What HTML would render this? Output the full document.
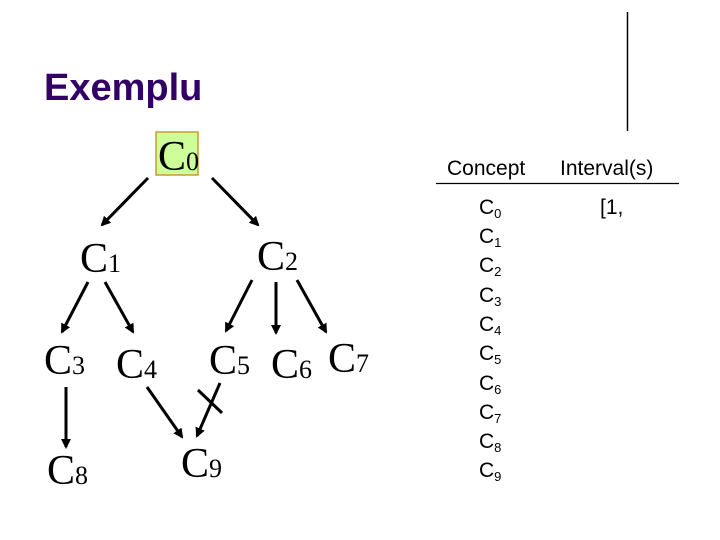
<!DOCTYPE html>
<html><head><meta charset="utf-8"><style>
html,body{margin:0;padding:0;background:#fff;width:720px;height:540px;overflow:hidden}
</style></head><body>
<svg width="720" height="540" viewBox="0 0 720 540" xmlns="http://www.w3.org/2000/svg">
<defs>
<marker id="a" markerWidth="10" markerHeight="10" refX="8" refY="5" orient="auto" markerUnits="userSpaceOnUse" viewBox="0 0 10 10">
<path d="M0,0 L10,5 L0,10 z" fill="#000"/>
</marker>
</defs>
<text x="44" y="100" font-family="Liberation Sans, sans-serif" font-weight="bold" font-size="38" fill="#330066">Exemplu</text>
<line x1="627.5" y1="12" x2="627.5" y2="131" stroke="#000" stroke-width="1.5"/>
<rect x="156" y="132" width="42" height="43" fill="#ccff99" stroke="#cc9933" stroke-width="1.5"/>
<g font-family="Liberation Serif, serif" font-size="42" fill="#000">
<text x="158" y="170">C<tspan font-size="26">0</tspan></text>
<text x="80" y="272">C<tspan font-size="26">1</tspan></text>
<text x="257" y="270">C<tspan font-size="26">2</tspan></text>
<text x="44" y="374">C<tspan font-size="26">3</tspan></text>
<text x="116" y="378">C<tspan font-size="26">4</tspan></text>
<text x="209" y="374">C<tspan font-size="26">5</tspan></text>
<text x="271" y="378">C<tspan font-size="26">6</tspan></text>
<text x="328" y="372">C<tspan font-size="26">7</tspan></text>
<text x="47" y="484">C<tspan font-size="26">8</tspan></text>
<text x="181" y="477">C<tspan font-size="26">9</tspan></text>
</g>
<g stroke="#000" stroke-width="3" fill="none">
<path d="M148 178 L102 225" marker-end="url(#a)"/>
<path d="M212 178 L258 225" marker-end="url(#a)"/>
<path d="M88 282 L62 332" marker-end="url(#a)"/>
<path d="M105 282 L133 332" marker-end="url(#a)"/>
<path d="M252 280 L226 331" marker-end="url(#a)"/>
<path d="M276 282 L276 333" marker-end="url(#a)"/>
<path d="M297 280 L326 332" marker-end="url(#a)"/>
<path d="M66 387 L66 447" marker-end="url(#a)"/>
<path d="M147 387 L182 437" marker-end="url(#a)"/>
<path d="M220 383 L197 436" marker-end="url(#a)"/>
<path d="M198 390 L222 413"/>
</g>
<g font-family="Liberation Sans, sans-serif" font-size="21" fill="#000">
<text x="447" y="175">Concept</text>
<text x="560" y="175">Interval(s)</text>
<text x="600" y="214">[1,</text>
</g>
<line x1="436" y1="183.5" x2="679" y2="183.5" stroke="#000" stroke-width="1.2"/>
<g font-family="Liberation Sans, sans-serif" font-size="21" fill="#000">
<text x="479" y="214">C<tspan font-size="13" dy="4">0</tspan></text>
<text x="479" y="243">C<tspan font-size="13" dy="4">1</tspan></text>
<text x="479" y="272">C<tspan font-size="13" dy="4">2</tspan></text>
<text x="479" y="302">C<tspan font-size="13" dy="4">3</tspan></text>
<text x="479" y="331">C<tspan font-size="13" dy="4">4</tspan></text>
<text x="479" y="360">C<tspan font-size="13" dy="4">5</tspan></text>
<text x="479" y="390">C<tspan font-size="13" dy="4">6</tspan></text>
<text x="479" y="419">C<tspan font-size="13" dy="4">7</tspan></text>
<text x="479" y="448">C<tspan font-size="13" dy="4">8</tspan></text>
<text x="479" y="477">C<tspan font-size="13" dy="4">9</tspan></text>
</g>
</svg>
</body></html>
